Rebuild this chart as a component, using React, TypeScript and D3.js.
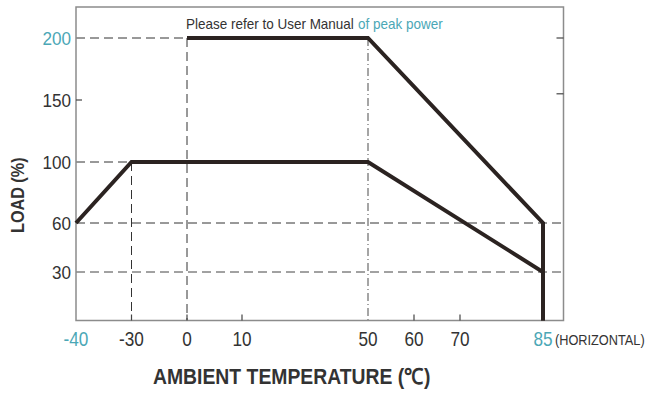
import React from "react";
import * as d3 from "d3";

// temperature break points and their printed labels (axis is not linear)
const tempTicks = [-40, -30, 0, 10, 50, 60, 70, 85];
const tempLabels = ["-40", "-30", "0", "10", "50", "60", "70", "85"];
const loadTicks = [30, 60, 100, 150, 200];
const loadLabels = ["30", "60", "100", "150", "200"];

// derating curves: [temperature, load %]
const continuousTemp = [-40, -30, 50, 85, 85];
const continuousLoad = [60, 100, 100, 30, 0];
const peakTemp = [0, 50, 85, 85];
const peakLoad = [200, 200, 60, 0];

const teal = "#4ba7b6";
const ink = "#2b2321";
const frameCol = "#8c8c8c";
const font = "'Liberation Sans', Arial, sans-serif";

export default function App() {
  const W = 650, H = 401;
  const left = 76, right = 563.5, top = 7, bottom = 320.5;

  // piecewise scales, as printed on the original chart
  const x = d3.scaleLinear()
    .domain([-40, -30, 0, 10, 50, 60, 70, 85])
    .range([76, 131.5, 187, 242, 368, 414, 460, 543]);
  const y = d3.scaleLinear()
    .domain([0, 30, 60, 100, 150, 200])
    .range([bottom, 272, 223, 162, 100, 38]);

  const path = (ts: number[], ls: number[]) =>
    d3.line<number>().x(d => x(d)).y((_, i) => y(ls[i]))(ts) as string;

  const dash = "9,5";
  return (
    <svg width={W} height={H} style={{ position: "absolute", left: 0, top: 0 }}>
      <rect width={W} height={H} fill="#fff" />
      {/* dashed guides */}
      <g fill="none" strokeWidth={1}>
        <line x1={left} x2={x(0)} y1={y(200)} y2={y(200)} stroke="#333" strokeDasharray={dash} />
        <line x1={left} x2={x(-30)} y1={y(100)} y2={y(100)} stroke="#333" strokeDasharray={dash} />
        <line x1={left} x2={right} y1={y(60)} y2={y(60)} stroke="#333" strokeDasharray={dash} />
        <line x1={left} x2={right} y1={y(30)} y2={y(30)} stroke="#444" strokeDasharray={dash} />
        <line x1={x(-30)} x2={x(-30)} y1={y(100)} y2={bottom} stroke="#333" strokeDasharray={dash} />
        <line x1={x(0)} x2={x(0)} y1={y(200)} y2={bottom} stroke="#333" strokeDasharray={dash} />
        <line x1={x(50)} x2={x(50)} y1={y(200)} y2={bottom} stroke="#888" strokeWidth={1.5} strokeDasharray="8,3,1,3" />
      </g>
      {/* frame */}
      <path d={`M${left},${top}H${right}V${bottom}H${left}Z`} fill="none" stroke={frameCol} strokeWidth={1.5} />
      {/* left ticks */}
      <line x1={left} x2={left + 6} y1={y(150)} y2={y(150)} stroke="#444" strokeWidth={1.2} />
      {/* right ticks */}
      {[200, 155].map(v => (
        <line key={v} x1={right - 7} x2={right} y1={y(v)} y2={y(v)} stroke="#444" strokeWidth={1.2} />
      ))}
      {/* bottom ticks */}
      {[-30, 0, 10, 60, 70].map(v => (
        <line key={v} x1={x(v)} x2={x(v)} y1={bottom} y2={bottom - 6} stroke="#444" strokeWidth={1.2} />
      ))}
      {/* curves */}
      <g fill="none" stroke={ink} strokeWidth={4} strokeLinejoin="miter">
        <path d={path(continuousTemp, continuousLoad)} />
        <path d={path(peakTemp, peakLoad)} />
      </g>
      {/* y labels (narrow face imitated by a horizontal squeeze) */}
      <g fontFamily={font} fontSize={19} textAnchor="end">
        {loadTicks.map((v, i) => (
          <text key={v} transform={`translate(71,${y(v)}) scale(0.9,1)`} dy="0.36em" fill={v === 200 ? teal : "#333"}>{loadLabels[i]}</text>
        ))}
      </g>
      {/* x labels */}
      <g fontFamily={font} fontSize={20} textAnchor="middle">
        {tempTicks.map((v, i) => (
          <text key={v} transform={`translate(${x(v)},346) scale(0.86,1)`} fill={v === -40 || v === 85 ? teal : "#333"}>{tempLabels[i]}</text>
        ))}
      </g>
      <text transform="translate(555,345) scale(0.85,1)" fontFamily={font} fontSize={15} fill="#333">(HORIZONTAL)</text>
      <text transform="translate(186,29) scale(0.9,1)" fontFamily={font} fontSize={15} fill="#333">Please refer to User Manual</text>
      <text transform="translate(358,29) scale(0.9,1)" fontFamily={font} fontSize={15} fill={teal}>of peak power</text>
      <text transform="translate(153,384) scale(0.88,1)" fontFamily={font} fontSize={22} fontWeight="bold" fill="#333">
        AMBIENT TEMPERATURE (℃)
      </text>
      <text transform="translate(24,233) rotate(-90) scale(0.9,1)" fontFamily={font} fontSize={18} fontWeight="bold" fill="#333">
        LOAD (%)
      </text>
    </svg>
  );
}
